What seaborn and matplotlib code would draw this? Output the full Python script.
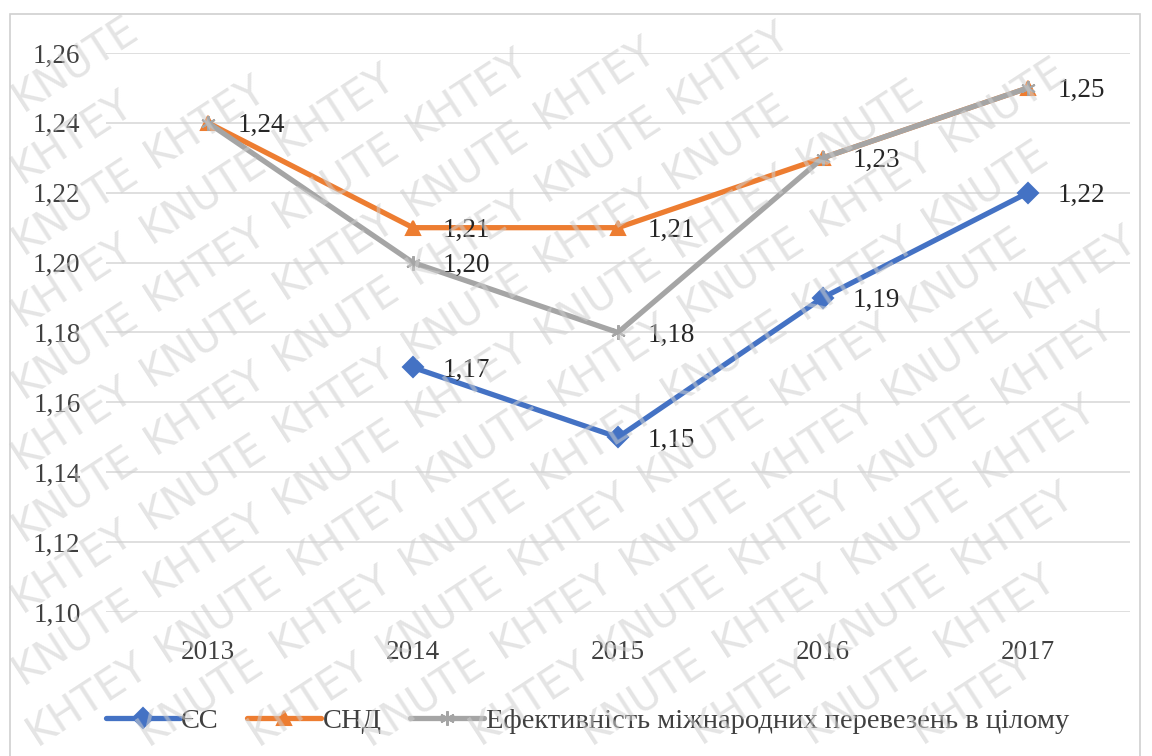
import matplotlib
matplotlib.use("Agg")
import matplotlib.pyplot as plt
import seaborn as sns
import numpy as np
import pandas as pd
from matplotlib.ticker import FuncFormatter, MultipleLocator
from matplotlib.patches import Rectangle

years = [2013, 2014, 2015, 2016, 2017]
eu = [np.nan, 1.17, 1.15, 1.19, 1.22]
cis = [1.24, 1.21, 1.21, 1.23, 1.25]
total = [1.24, 1.20, 1.18, 1.23, 1.25]
series_names = ["ЄС", "СНД", "Ефективність міжнародних перевезень в цілому"]
colors = ["#4472C4", "#ED7D31", "#A5A5A5"]
markers = ["D", "^", (6, 2, 0)]
watermark_words = ["KHTEY", "KNUTE"]

sns.set_theme(style="white")
plt.rcParams['font.family'] = ['Liberation Serif', 'DejaVu Serif']

W, H = 1152, 756
fig = plt.figure(figsize=(W / 100, H / 100), dpi=100)
fig.canvas.draw()
rend = fig.canvas.get_renderer()

# watermark: words along rotated rows, only those that fit fully in the figure
WM_SIZE = 30
sizes = {}
for w in watermark_words:
    t = fig.text(0.5, 0.5, w, fontsize=WM_SIZE, family="DejaVu Sans")
    bb = t.get_window_extent(rend)
    sizes[w] = (bb.width, bb.height)
    t.remove()

ang = np.deg2rad(33)
u = np.array([np.cos(ang), np.sin(ang)])
v = np.array([-np.sin(ang), np.cos(ang)])
row_gap = 60
gap = 14
for r in range(-20, 25):
    base = v * row_gap * r
    last_end = -1e9
    k = 0
    for s in np.arange(-1600, 1600, 6):
        word = watermark_words[(k + r) % 2]
        w_px, h_px = sizes[word]
        if s - w_px / 2 < last_end + gap:
            continue
        cx, cy = base + u * s
        hx = w_px / 2 * np.cos(ang) + h_px / 2 * np.sin(ang)
        hy = w_px / 2 * np.sin(ang) + h_px / 2 * np.cos(ang)
        if cx - hx < 2 or cx + hx > W - 2 or cy - hy < 2 or cy + hy > H - 2:
            continue
        fig.text(cx / W, cy / H, word, rotation=33, rotation_mode="anchor",
                 ha="center", va="center", fontsize=WM_SIZE, color="#cfcfcf",
                 alpha=0.55, family="DejaVu Sans", zorder=0)
        last_end = s + w_px / 2
        k += 1

ax = fig.add_axes([0.0916, 0.1905, 0.8897, 0.7394])
ax.set_facecolor("none")

df = pd.DataFrame({"year": years, series_names[0]: eu, series_names[1]: cis, series_names[2]: total})
long = df.melt(id_vars="year", var_name="series", value_name="value")

for name, c, m in zip(series_names, colors, markers):
    sub = long[long["series"] == name].dropna()
    sns.lineplot(data=sub, x="year", y="value", ax=ax, color=c, linewidth=3.8,
                 marker=m, markersize=10.5, markeredgecolor=c, markeredgewidth=1.5,
                 label=name, zorder=3)

# data labels
label_sets = [
    (eu, [1, 2, 3, 4]),
    (cis, [1, 2, 4]),
    (total, [0, 1, 2, 3]),
]
for vals, idxs in label_sets:
    for i in idxs:
        val = vals[i]
        ax.annotate(f"{val:.2f}".replace(".", ","), (years[i], val), xytext=(21, -2),
                    textcoords="offset points", ha="left", va="center",
                    fontsize=19.5, color="#262626", zorder=4)

ax.set_xlim(2012.5, 2017.5)
ax.set_ylim(1.10, 1.26)
ax.set_xticks(years)
ax.yaxis.set_major_locator(MultipleLocator(0.02))
ax.yaxis.set_major_formatter(FuncFormatter(lambda val, p: f"{val:.2f}".replace(".", ",")))
ax.grid(axis="y", color="#d9d9d9", linewidth=1.2)
ax.grid(axis="x", visible=False)
for s in ax.spines.values():
    s.set_visible(False)
ax.tick_params(axis="both", length=0, labelsize=19.5, labelcolor="#404040")
ax.tick_params(axis="x", pad=20)
ax.tick_params(axis="y", pad=18)
ax.set_xlabel("")
ax.set_ylabel("")

ax.legend(loc="center", bbox_to_anchor=(0.47, -0.195), ncol=3, frameon=False,
          fontsize=20.5, handlelength=2.6, handletextpad=0.05, columnspacing=1.0,
          labelcolor="#404040")

fig.patches.append(Rectangle((10 / W, -0.01), 1130 / W, 1 - 14 / H + 0.01,
                             transform=fig.transFigure, fill=False,
                             edgecolor="#d0d0d0", linewidth=1.2, zorder=1))

fig.savefig("out.png", dpi=100)
